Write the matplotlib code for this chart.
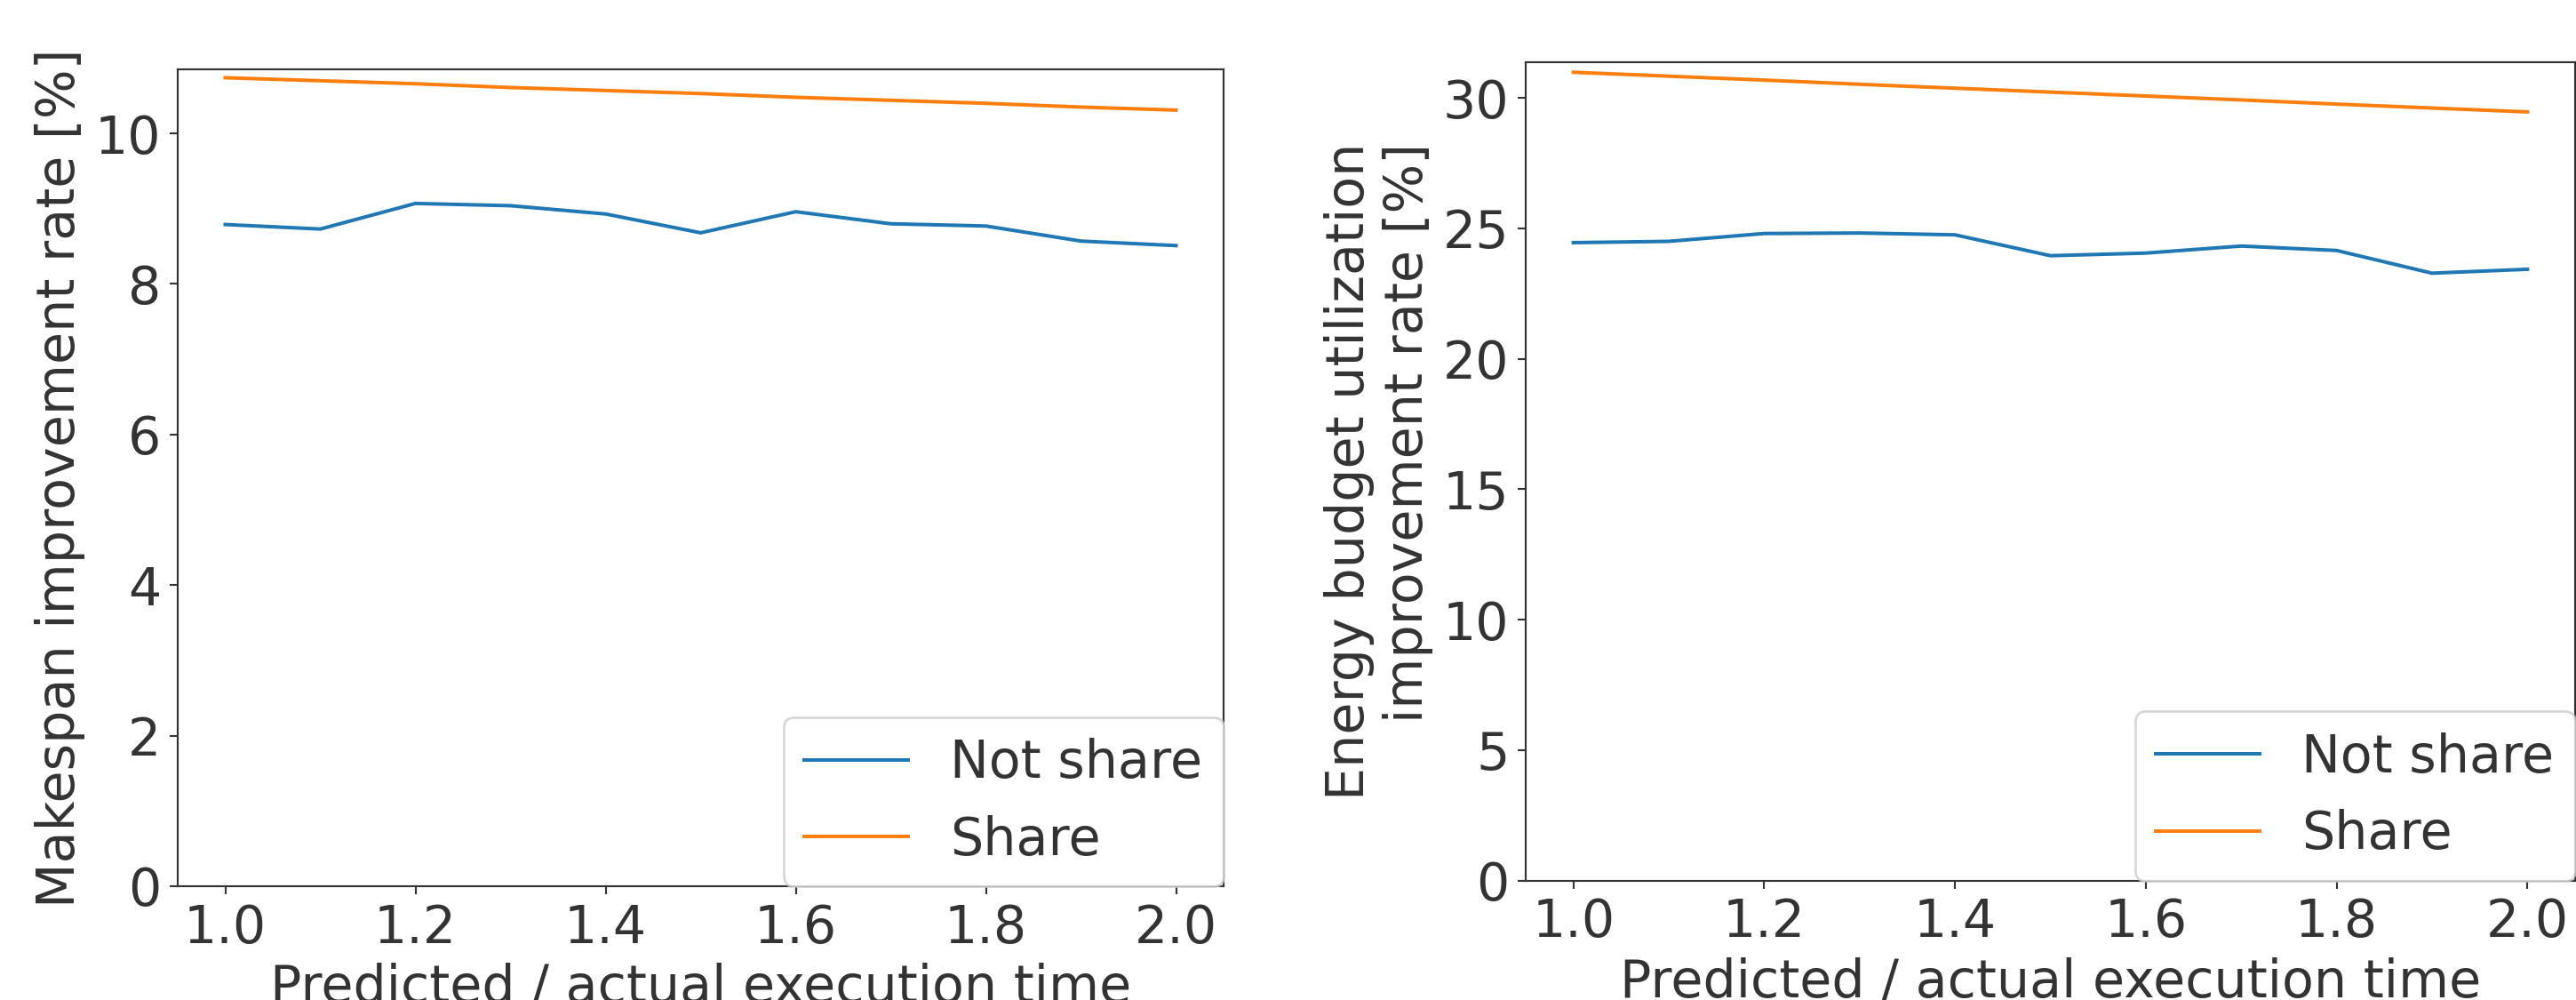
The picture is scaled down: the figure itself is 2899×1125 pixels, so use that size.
import matplotlib
matplotlib.use("Agg")
import matplotlib.pyplot as plt

# ---- data ----
ratio = [1.0, 1.1, 1.2, 1.3, 1.4, 1.5, 1.6, 1.7, 1.8, 1.9, 2.0]
makespan_not_share = [8.79, 8.73, 9.07, 9.04, 8.93, 8.68, 8.96, 8.80, 8.77, 8.57, 8.51]
makespan_share = [10.74, 10.70, 10.66, 10.61, 10.57, 10.53, 10.48, 10.44, 10.40, 10.35, 10.31]
energy_not_share = [24.45, 24.50, 24.80, 24.82, 24.75, 23.95, 24.05, 24.32, 24.15, 23.28, 23.43]
energy_share = [30.98, 30.83, 30.68, 30.52, 30.37, 30.22, 30.07, 29.92, 29.76, 29.61, 29.46]
series_labels = ["Not share", "Share"]
xlabel = "Predicted / actual execution time"
ylabel_left = "Makespan improvement rate [%]"
ylabel_right = "Energy budget utilization\nimprovement rate [%]"

TXT = "#333333"
plt.rcParams.update({
    "font.family": ["DejaVu Sans"],
    "font.size": 22,
    "text.color": TXT,
    "axes.labelcolor": TXT,
    "xtick.color": TXT,
    "ytick.color": TXT,
    "axes.edgecolor": TXT,
})

W, H = 2899, 1125
DPI = 192
fig = plt.figure(figsize=(W / DPI, H / DPI), dpi=DPI)

ax1 = fig.add_axes([200 / W, (H - 997) / H, 1177 / W, 919 / H])
ax2 = fig.add_axes([1717 / W, (H - 990.7) / H, 1181 / W, 920.7 / H])

for ax, ns, sh, yl in [(ax1, makespan_not_share, makespan_share, ylabel_left),
                       (ax2, energy_not_share, energy_share, ylabel_right)]:
    ax.plot(ratio, ns, color="#1f77b4", label=series_labels[0])
    ax.plot(ratio, sh, color="#ff7f0e", label=series_labels[1])
    ax.set_ylim(bottom=0)
    ax.set_xlabel(xlabel)
    ax.set_ylabel(yl, multialignment="right")
    ax.legend(loc="lower right", borderaxespad=0)

plt.savefig("out.png", dpi=DPI)
